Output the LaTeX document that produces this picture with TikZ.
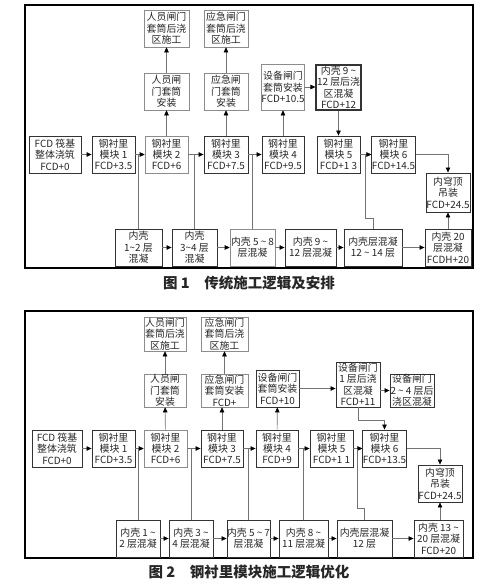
\documentclass[tikz,border=0pt]{standalone}
\usepackage{fontspec}
\setmainfont{Noto Sans CJK SC}
\usetikzlibrary{arrows.meta}
\newcommand{\tld}{\textasciitilde}

\begin{document}
\begin{tikzpicture}[
  x=1pt,y=-1pt,
  font=\fontsize{9.9}{11.4}\selectfont,
  box/.style={draw=black!80,line width=0.9pt,inner sep=0pt,align=center,
    text=black!85,minimum width=44,minimum height=37},
  pale/.style={box,draw=black!45,line width=0.6pt},
  arr/.style={draw=black!55,line width=0.6pt,
    -{Triangle[length=5pt,width=4.5pt,color=black]}},
  link/.style={draw=black!55,line width=0.6pt},
  frame/.style={line width=1.3pt},
  caption/.style={font=\fontsize{14.5}{17}\selectfont\bfseries,text=black!85}
]
  \useasboundingbox (0,0) rectangle (492,584);
  % figure 1
  \draw[frame] (25,5) rectangle (473,268);
  \node[pale,minimum width=45] (u1a) at (166.5,28.5) {人员闸门\\套筒后浇\\区施工};
  \node[pale] (u1b) at (226,28.5) {应急闸门\\套筒后浇\\区施工};
  \node[pale,minimum width=45] (i1a) at (166.5,91.5) {人员闸\\门套筒\\安装};
  \node[pale] (i1b) at (226,91.5) {应急闸\\门套筒\\安装};
  \node[pale,minimum width=42,minimum height=46] (e1) at (283,87) {设备闸门\\套筒安装\\FCD+10.5};
  \node[box,minimum width=45,minimum height=45,line width=1.1pt] (p1) at (338.5,87.5)
    {内壳 9 \tld\\12 层后浇\\区混凝\\FCD+12};
  \node[box,minimum width=52] (f1) at (55,154.5) {FCD 筏基\\整体浇筑\\FCD+0};
  \node[box,minimum width=43] (m1) at (113.5,154.5) {钢衬里\\模块 1\\FCD+3.5};
  \node[pale,minimum width=43] (m2) at (166.5,154.5) {钢衬里\\模块 2\\FCD+6};
  \node[box] (m3) at (226,154.5) {钢衬里\\模块 3\\FCD+7.5};
  \node[box,minimum width=42] (m4) at (283,154.5) {钢衬里\\模块 4\\FCD+9.5};
  \node[box,minimum width=43] (m5) at (338.5,154.5) {钢衬里\\模块 5\\FCD+1 3};
  \node[box,minimum width=43] (m6) at (393.5,154.5) {钢衬里\\模块 6\\FCD+14.5};
  \node[box,minimum height=39] (dome1) at (448,192.5) {内穹顶\\吊装\\FCD+24.5};
  \node[box,minimum width=47] (n1) at (138.5,247.5) {内壳\\1\tld2 层\\混凝};
  \node[box,minimum width=45] (n2) at (194.5,247.5) {内壳\\3\tld4 层\\混凝};
  \node[pale,minimum width=45] (n3) at (252.5,247.5) {内壳 5 \tld\ 8\\层混凝};
  \node[box,minimum width=51] (n4) at (310.5,247.5) {内壳 9 \tld\\12 层混凝};
  \node[box,minimum width=58] (n5) at (373,247.5) {内壳层混凝\\12 \tld\ 14 层};
  \node[box,minimum width=46] (n6) at (448,247.5) {内壳 20\\层混凝\\FCDH+20};
  \draw[arr] (f1) -- (m1);
  \draw[arr] (m1) -- (m2);
  \draw[arr] (m2) -- (m3);
  \draw[arr] (m3) -- (m4);
  \draw[arr] (m5) -- (m6);
  \draw[arr] (m2) -- (i1a);
  \draw[arr] (i1a) -- (u1a);
  \draw[arr] (m3) -- (i1b);
  \draw[arr] (i1b) -- (u1b);
  \draw[arr] (m4) -- (e1);
  \draw[arr] (e1.east) -- (e1.east -| p1.west);
  \draw[arr] (p1) -- (m5);
  \draw[arr] (m6.east) -| (dome1.north);
  \draw[arr] (n6) -- (dome1);
  \draw[arr] (n1) -- (n2);
  \draw[arr] (n2) -- (n3);
  \draw[arr] (n3) -- (n4);
  \draw[arr] (n4) -- (n5);
  \draw[arr] (n5) -- (n6);
  \draw[link] (n1.north) -- (n1.north |- m1.east);
  \draw[link] (n2.north) -- (n2.north |- m2.east);
  \draw[link] (n3.north) -- (n3.north |- m3.east);
  \coordinate (j1) at (365,218);
  \draw[link] (j1 |- m5.east) -- (j1) -| (n5.north);
  \node[caption] (cap1) at (249,283) {图 1\quad 传统施工逻辑及安排};

  % figure 2
  \draw[frame] (25,311) rectangle (473,558);
  \node[pale,minimum width=42,minimum height=34] (u2a) at (165,334) {人员闸门\\套筒后浇\\区施工};
  \node[pale,minimum width=47,minimum height=34] (u2b) at (224.5,334) {应急闸门\\套筒后浇\\区施工};
  \node[pale,minimum width=42,minimum height=33] (i2a) at (165,390.5) {人员闸\\门套筒\\安装};
  \node[pale,minimum width=47,minimum height=33] (i2b) at (224.5,390.5) {应急闸门\\套筒安装\\FCD+};
  \node[box,minimum width=43] (e2) at (277.5,388.5) {设备闸门\\套筒安装\\FCD+10};
  \node[box,minimum height=45] (g1) at (358,384.5) {设备闸门\\1 层后浇\\区混凝\\FCD+11};
  \node[box,minimum height=33] (g2) at (412,390.5) {设备闸门\\2 \tld\ 4 层后\\浇区混凝};
  \tikzset{every node/.append style={minimum height=33}}
  \node[box,minimum width=50] (f2) at (57,448.5) {FCD 筏基\\整体浇筑\\FCD+0};
  \node[box,minimum width=43] (k1) at (113.5,448.5) {钢衬里\\模块 1\\FCD+3.5};
  \node[pale,minimum width=43] (k2) at (165.5,448.5) {钢衬里\\模块 2\\FCD+6};
  \node[box,minimum width=42] (k3) at (222,448.5) {钢衬里\\模块 3\\FCD+7.5};
  \node[box,minimum width=42] (k4) at (277,448.5) {钢衬里\\模块 4\\FCD+9};
  \node[box,minimum width=43] (k5) at (331.5,448.5) {钢衬里\\模块 5\\FCD+1 1};
  \node[box,minimum width=43] (k6) at (384.5,448.5) {钢衬里\\模块 6\\FCD+13.5};
  \node[box] (dome2) at (440,483.5) {内穹顶\\吊装\\FCD+24.5};
  \node[box] (q1) at (138,538.5) {内壳 1 \tld\\2 层混凝};
  \node[box] (q2) at (191,538.5) {内壳 3 \tld\\4 层混凝};
  \node[box,minimum width=43] (q3) at (248.5,538.5) {内壳 5 \tld\ 7\\层混凝};
  \node[box,minimum width=49] (q4) at (303.5,538.5) {内壳 8 \tld\\11 层混凝};
  \node[box,minimum width=55] (q5) at (364.5,538.5) {内壳层混凝\\12 层};
  \node[box,minimum width=49] (q6) at (438.5,538.5) {内壳 13 \tld\\20 层混凝\\FCD+20};
  \draw[arr] (f2) -- (k1);
  \draw[arr] (k1) -- (k2);
  \draw[arr] (k2) -- (k3);
  \draw[arr] (k3) -- (k4);
  \draw[arr] (k4) -- (k5);
  \draw[arr] (k5) -- (k6);
  \draw[arr] (k2) -- (i2a);
  \draw[arr] (i2a) -- (u2a);
  \draw[arr] (k3.north) -- (k3.north |- i2b.south);
  \draw[arr] (i2b) -- (u2b);
  \draw[arr] (k4) -- (e2);
  \draw[arr] (e2.east) -- (e2.east -| g1.west);
  \draw[arr] (g2.west -| g1.east) -- (g2.west);
  \coordinate (j2) at (358,420);
  \draw[arr] (g1.south) -- (j2) -| (k6.north);
  \draw[arr] (k6.east) -| (dome2.north);
  \draw[arr] (dome2.south |- q6.north) -- (dome2.south);
  \draw[arr] (q1) -- (q2);
  \draw[arr] (q2) -- (q3);
  \draw[arr] (q3) -- (q4);
  \draw[arr] (q4) -- (q5);
  \draw[arr] (q5) -- (q6);
  \draw[link] (q1.north) -- (q1.north |- k1.east);
  \draw[link] (q2.north) -- (q2.north |- k2.east);
  \draw[link] (q3.north) -- (q3.north |- k3.east);
  \draw[link] (q4.north) -- (q4.north |- k4.east);
  \coordinate (j3) at (357,508);
  \draw[link] (j3 |- k5.east) -- (j3) -| (q5.north);
  \node[caption] (cap2) at (249,572) {图 2\quad 钢衬里模块施工逻辑优化};
\end{tikzpicture}
\end{document}
